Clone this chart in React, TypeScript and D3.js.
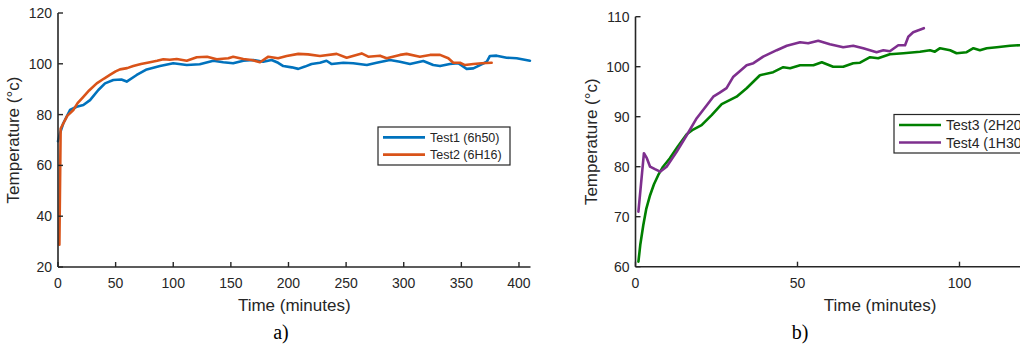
import React from "react";
import * as d3 from "d3";

// ---------- data ----------
const test1Time = [0, 1.7, 4.6, 10.4, 16.2, 22, 27.8, 35, 40.8, 48, 55, 59.6, 68.3, 77, 88.5, 100, 111.7, 123, 134.8, 143.4, 152, 160.8, 169.5, 178, 185.4, 191, 195.5, 202.8, 208.5, 214.3, 220, 227.3, 233, 237.5, 247.6, 256.2, 268, 276.5, 288, 296.7, 305.4, 317, 325.6, 331.5, 340, 347.3, 354.6, 360.4, 366.2, 372, 374.8, 380.6, 389.3, 398, 409.5];
const test1Temp = [69.5, 72.6, 76.6, 81.8, 83.1, 83.8, 85.7, 89.7, 92.3, 93.6, 93.8, 93, 95.6, 97.8, 99.1, 100.2, 99.5, 99.8, 101.2, 100.6, 100.2, 101.2, 101.5, 100.8, 101.5, 100.4, 99.1, 98.6, 98, 98.9, 99.9, 100.4, 101.2, 99.9, 100.4, 100.2, 99.5, 100.4, 101.5, 100.8, 99.9, 101.1, 99.5, 99.1, 99.9, 100.2, 98, 98.2, 99.5, 100.8, 103.1, 103.2, 102.4, 102.2, 101.2];

const test2Time = [1.2, 2.3, 4.6, 8, 13.3, 17, 22, 27, 33.6, 40, 45, 50, 53.8, 60, 65.3, 72, 79.8, 86, 91.4, 97, 103, 111.7, 120.4, 129.4, 137.7, 147.8, 152, 160.8, 168, 175.3, 182.5, 191, 198.4, 208.5, 217, 227.3, 241.8, 250.5, 263.5, 269.2, 279.4, 285.2, 296.7, 302.5, 314, 322.8, 331.5, 338.7, 343, 348.8, 353.2, 360.4, 367.6, 376.3];
const test2Temp = [28.8, 74.5, 76.5, 79.5, 81.8, 84.5, 87, 89.5, 92.3, 94.2, 95.6, 97, 97.8, 98.3, 99.1, 99.9, 100.6, 101.2, 101.8, 101.6, 101.9, 101.2, 102.6, 102.8, 101.8, 102.2, 102.8, 101.9, 101.5, 100.6, 102.8, 102.2, 103.1, 103.9, 103.7, 103.1, 103.9, 102.4, 104.1, 102.8, 103.2, 102.2, 103.5, 103.9, 102.8, 103.5, 103.5, 102.2, 100.4, 100.4, 99.5, 99.9, 100.2, 100.4];

const test3Time = [0.9, 1.5, 2.4, 3.3, 4.5, 5.7, 7, 8.5, 10.6, 13, 15.8, 17.5, 20.4, 23.5, 26.6, 31.2, 34.3, 38.4, 42.5, 45.6, 47.7, 50.8, 54.9, 57.5, 61, 64.1, 67.2, 69.3, 72.4, 74.9, 78.5, 82.7, 87.8, 90.9, 92.4, 94, 97.1, 99.1, 102.2, 104.3, 106.3, 108.4, 111.5, 115.6, 118.5, 125];
const test3Temp = [61, 64.5, 68.3, 71.5, 74.3, 76.5, 78.3, 80, 81.7, 84, 86.5, 87.3, 88.3, 90.3, 92.5, 94, 95.7, 98.3, 98.9, 99.9, 99.7, 100.3, 100.3, 100.9, 100, 100, 100.7, 100.8, 101.9, 101.7, 102.5, 102.7, 103, 103.3, 103, 103.7, 103.3, 102.7, 102.9, 103.7, 103.3, 103.7, 103.9, 104.2, 104.3, 104.3];

const test4Time = [0.9, 2.6, 3.5, 4.5, 6, 7.6, 9.6, 12.7, 15.8, 18.9, 22, 24, 26, 28.1, 30.2, 32, 34.3, 36.4, 39.4, 43.6, 46.7, 50.8, 53.3, 56.4, 60, 64.1, 67.2, 70.3, 74.4, 76.5, 78.5, 81.1, 83.2, 84.2, 85.7, 89];
const test4Temp = [71, 82.7, 81.7, 80, 79.5, 79, 80, 83, 86.3, 89.7, 92.3, 94, 94.8, 95.7, 98, 99, 100.3, 100.7, 102, 103.3, 104.2, 104.9, 104.7, 105.2, 104.5, 103.9, 104.2, 103.7, 102.9, 103.3, 103.1, 104.3, 104.3, 106, 106.9, 107.7];

const ticksA_x = [0, 50, 100, 150, 200, 250, 300, 350, 400];
const ticksA_y = [20, 40, 60, 80, 100, 120];
const ticksB_x = [0, 50, 100];
const ticksB_y = [60, 70, 80, 90, 100, 110];

const legendA = ["Test1 (6h50)", "Test2 (6H16)"];
const legendB = ["Test3 (2H20)", "Test4 (1H30)"];

const BLUE = "#0072BD";
const ORANGE = "#D95319";
const GREEN = "#008000";
const PURPLE = "#7E2F8E";
const AX = "#262626";
const FONT = "Liberation Sans, Arial, sans-serif";

type Series = { t: number[]; v: number[]; color: string; name: string };

function Panel(props: {
  x0: number; x1: number; y0: number; y1: number;
  xDom: [number, number]; yDom: [number, number];
  xTicks: number[]; yTicks: number[];
  series: Series[];
  legend: { x: number; y: number; w: number; h: number; fs: number; row: number };
  label: string; labelX: number;
}) {
  const { x0, x1, y0, y1, xDom, yDom, xTicks, yTicks, series, legend, label, labelX } = props;
  const xs = d3.scaleLinear().domain(xDom).range([x0, x1]);
  const ys = d3.scaleLinear().domain(yDom).range([y1, y0]);
  const line = d3.line<[number, number]>().x((d) => xs(d[0])).y((d) => ys(d[1]));
  const midX = (x0 + x1) / 2;
  const midY = (y0 + y1) / 2;
  return (
    <g>
      {series.map((s) => (
        <path key={s.name} d={line(s.t.map((t, i) => [t, s.v[i]]) as [number, number][]) || ""}
          fill="none" stroke={s.color} strokeWidth={2.6} strokeLinejoin="round" strokeLinecap="round" />
      ))}
      <line x1={x0} x2={x1} y1={y1} y2={y1} stroke={AX} strokeWidth={1.6} />
      <line x1={x0} x2={x0} y1={y0} y2={y1} stroke={AX} strokeWidth={1.6} />
      {xTicks.map((t) => (
        <g key={"x" + t}>
          <line x1={xs(t)} x2={xs(t)} y1={y1} y2={y1 - 5} stroke={AX} strokeWidth={1.4} />
          <text x={xs(t)} y={y1 + 21} textAnchor="middle" fontSize={14} fill={AX} fontFamily={FONT}>{t}</text>
        </g>
      ))}
      {yTicks.map((t) => (
        <g key={"y" + t}>
          <line x1={x0} x2={x0 + 5} y1={ys(t)} y2={ys(t)} stroke={AX} strokeWidth={1.4} />
          <text x={x0 - 6} y={ys(t) + 5} textAnchor="end" fontSize={14} fill={AX} fontFamily={FONT}>{t}</text>
        </g>
      ))}
      <text x={midX} y={y1 + 44} textAnchor="middle" fontSize={17} fill={AX} fontFamily={FONT}>Time (minutes)</text>
      <text transform={`translate(${x0 - 39},${midY}) rotate(-90)`} textAnchor="middle" fontSize={17} fill={AX} fontFamily={FONT}>Temperature (°c)</text>
      <g>
        <rect x={legend.x} y={legend.y} width={legend.w} height={legend.h} fill="#fff" stroke={AX} strokeWidth={1.2} />
        {series.map((s, i) => {
          const cy = legend.y + legend.h / 2 - legend.row / 2 + i * legend.row;
          return (
            <g key={"l" + s.name}>
              <line x1={legend.x + 5} x2={legend.x + 47} y1={cy} y2={cy} stroke={s.color} strokeWidth={2.6} />
              <text x={legend.x + 52} y={cy + legend.fs * 0.36} fontSize={legend.fs} fill={AX} fontFamily={FONT}>{s.name}</text>
            </g>
          );
        })}
      </g>
      <text x={labelX} y={339} textAnchor="middle" fontSize={20} fill="#000" fontFamily="Liberation Serif, Times New Roman, serif">{label}</text>
    </g>
  );
}

export default function App() {
  return (
    <svg width={1020} height={346} style={{ position: "absolute", left: 0, top: 0, background: "#fff" }}>
      <rect width={1020} height={346} fill="#fff" />
      <Panel x0={58} x1={530.5} y0={13} y1={267} xDom={[0, 410]} yDom={[20, 120]}
        xTicks={ticksA_x} yTicks={ticksA_y}
        series={[
          { t: test1Time, v: test1Temp, color: BLUE, name: legendA[0] },
          { t: test2Time, v: test2Temp, color: ORANGE, name: legendA[1] },
        ]}
        legend={{ x: 378, y: 127, w: 132, h: 38, fs: 12.5, row: 17.3 }} label="a)" labelX={281} />
      <Panel x0={635.5} x1={635.5 + 3.24 * 151} y0={16.7} y1={266.7} xDom={[0, 151]} yDom={[60, 110]}
        xTicks={ticksB_x} yTicks={ticksB_y}
        series={[
          { t: test3Time, v: test3Temp, color: GREEN, name: legendB[0] },
          { t: test4Time, v: test4Temp, color: PURPLE, name: legendB[1] },
        ]}
        legend={{ x: 894, y: 114.5, w: 150, h: 38.5, fs: 14, row: 17.5 }} label="b)" labelX={800} />
    </svg>
  );
}
